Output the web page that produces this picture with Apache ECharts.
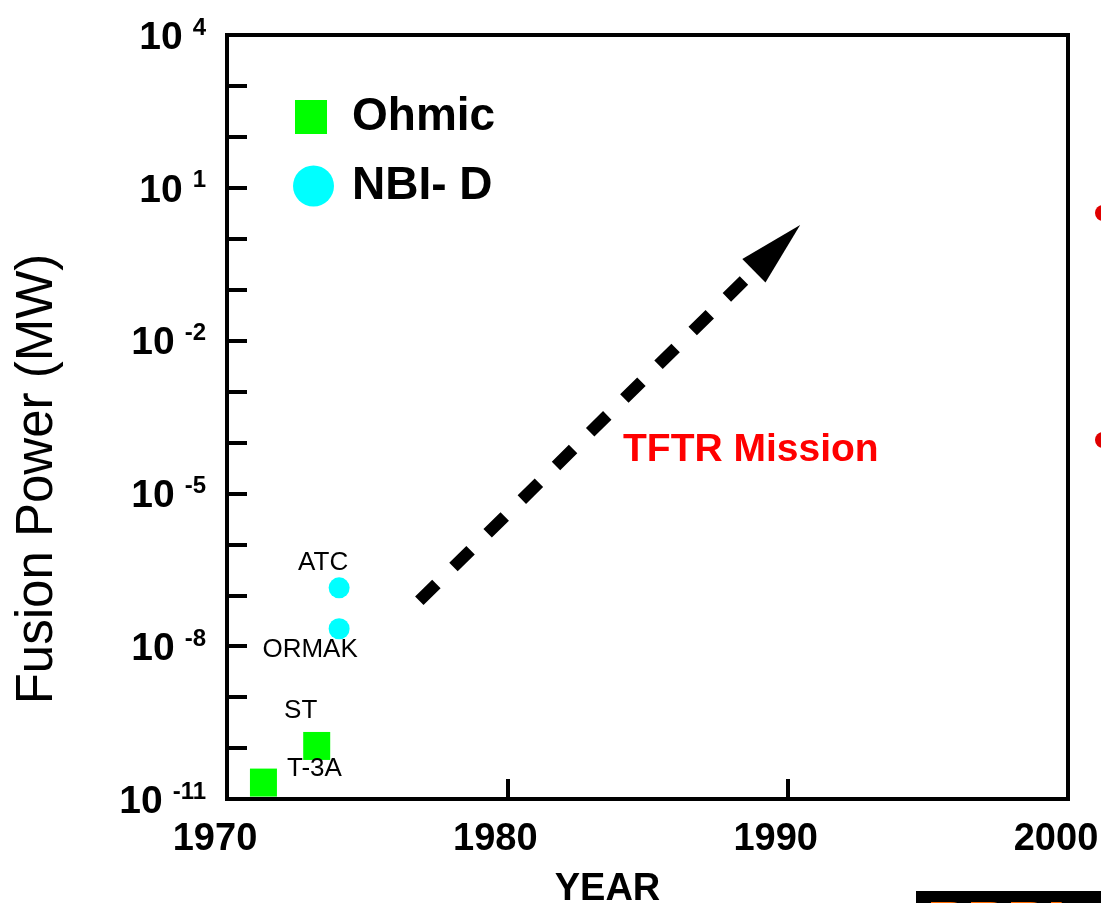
<!DOCTYPE html>
<html>
<head>
<meta charset="utf-8">
<script src="https://cdn.jsdelivr.net/npm/echarts@6/dist/echarts.min.js"></script>
<style>
  html, body { margin: 0; padding: 0; background: #fff; }
  #chart { width: 1101px; height: 903px; }
</style>
</head>
<body>
<div id="chart"></div>
<script>
// Fusion power (MW, log scale) reached by early tokamaks, by year

// Ohmic-heated discharges
const ohmicNames = ['T-3A', 'ST'];
const ohmicYears = [1971.3, 1973.2];
const ohmicPower = [2.1e-11, 1.1e-10];

// Neutral-beam heated deuterium discharges
const nbiNames = ['ATC', 'ORMAK'];
const nbiYears = [1974.0, 1974.0];
const nbiPower = [1.4e-7, 2.2e-8];

// TFTR mission trend arrow: tail and head [year, MW]
const missionYears = [1976.86, 1989.62];
const missionPower = [7.8e-8, 0.66];

// Axis ticks
const yearTicks = [1970, 1980, 1990, 2000];
const powerExponents = [-11, -8, -5, -2, 1, 4];

const FONT = '"Liberation Sans", Arial, Helvetica, sans-serif';

// Where each point's name sits relative to its marker (px)
const labelOffsets = {
  'T-3A': [51, -14],
  'ST': [-16, -35],
  'ATC': [-16, -25],
  'ORMAK': [-29, 21]
};

function pointData(names, years, power) {
  return names.map((n, i) => ({
    name: n,
    value: [years[i], power[i]],
    label: { offset: labelOffsets[n] }
  }));
}

const pointLabel = {
  show: true,
  position: 'inside',
  formatter: '{b}',
  fontFamily: FONT,
  fontSize: 26,
  color: '#000'
};

const chart = echarts.init(document.getElementById('chart'), null, { renderer: 'canvas' });

chart.setOption({
  animation: false,
  backgroundColor: '#fff',
  grid: {
    left: 227, right: 33, top: 35, bottom: 104,
    outerBoundsMode: 'none',
    containLabel: false,
    show: true, borderColor: '#000', borderWidth: 4, backgroundColor: 'transparent'
  },
  legend: [
    {
      data: [{ name: 'Ohmic', icon: 'rect' }],
      left: 290, top: 89,
      itemWidth: 32, itemHeight: 34,
      selectedMode: false,
      textStyle: { fontFamily: FONT, fontSize: 46, fontWeight: 'bold', color: '#000', padding: [0, 0, 0, 20] }
    },
    {
      data: [{ name: 'NBI- D', icon: 'circle' }],
      left: 288, top: 158,
      itemWidth: 41, itemHeight: 41,
      selectedMode: false,
      textStyle: { fontFamily: FONT, fontSize: 46, fontWeight: 'bold', color: '#000', padding: [0, 0, 0, 13] }
    }
  ],
  xAxis: {
    type: 'value',
    min: 1970, max: 2000, interval: 10,
    name: 'YEAR',
    nameLocation: 'middle',
    nameGap: 72,
    nameTextStyle: { fontFamily: FONT, fontSize: 38, fontWeight: 'bold', color: '#000', padding: [0, 80, 0, 0] },
    axisLine: { show: true, lineStyle: { color: '#000', width: 4 } },
    axisTick: { show: true, inside: true, length: 20, lineStyle: { color: '#000', width: 4 } },
    splitLine: { show: false },
    axisLabel: {
      fontFamily: FONT, fontSize: 38, fontWeight: 'bold', color: '#000',
      margin: 22, padding: [0, 24, 0, 0],
      showMinLabel: true, showMaxLabel: true,
      formatter: v => (yearTicks.includes(v) ? String(v) : '')
    }
  },
  yAxis: {
    type: 'log',
    logBase: 10,
    min: 1e-11, max: 1e4, interval: 1,
    axisLine: { show: true, lineStyle: { color: '#000', width: 4 } },
    axisTick: { show: true, inside: true, length: 20, lineStyle: { color: '#000', width: 4 } },
    splitLine: { show: false },
    axisLabel: {
      margin: 21,
      padding: [6, 0, 0, 0],
      showMinLabel: true, showMaxLabel: true,
      formatter: v => {
        const e = Math.round(Math.log10(v));
        return powerExponents.includes(e) ? '{b|10}{s|' + e + '}' : '';
      },
      rich: {
        b: { fontFamily: FONT, fontSize: 39, fontWeight: 'bold', color: '#000', lineHeight: 44 },
        s: { fontFamily: FONT, fontSize: 24, fontWeight: 'bold', color: '#000', lineHeight: 8,
             verticalAlign: 'top', padding: [0, 0, 0, 10] }
      }
    }
  },
  series: [
    {
      name: 'Ohmic',
      type: 'scatter',
      symbol: 'rect',
      symbolSize: [27, 28],
      itemStyle: { color: '#00ff00', opacity: 1 },
      label: pointLabel,
      emphasis: { disabled: true },
      data: pointData(ohmicNames, ohmicYears, ohmicPower)
    },
    {
      name: 'NBI- D',
      type: 'scatter',
      symbol: 'circle',
      symbolSize: 21,
      itemStyle: { color: '#00ffff', opacity: 1 },
      label: pointLabel,
      emphasis: { disabled: true },
      data: pointData(nbiNames, nbiYears, nbiPower)
    },
    {
      name: 'TFTR Mission',
      type: 'scatter',
      data: [],
      silent: true,
      markLine: {
        silent: true,
        animation: false,
        label: { show: false },
        emphasis: { disabled: true },
        lineStyle: { color: '#000', width: 12, type: [24, 24], cap: 'butt', opacity: 1 },
        data: [[
          { coord: [missionYears[0], missionPower[0]], symbol: 'none' },
          { coord: [missionYears[1], missionPower[1]], symbol: 'triangle', symbolSize: [33, 65] }
        ]]
      }
    }
  ],
  graphic: [
    {
      type: 'text', x: 38, y: 479, rotation: Math.PI / 2,
      style: { text: 'Fusion Power (MW)', font: '51px ' + FONT, fill: '#000', align: 'center', verticalAlign: 'middle' }
    },
    {
      type: 'text', x: 623, y: 450,
      style: { text: 'TFTR Mission', font: 'bold 39px ' + FONT, fill: '#ff0000', align: 'left', verticalAlign: 'middle' }
    },
    { type: 'circle', shape: { cx: 1103, cy: 213, r: 8 }, style: { fill: '#e00000' } },
    { type: 'circle', shape: { cx: 1103, cy: 440, r: 8 }, style: { fill: '#e00000' } },
    { type: 'rect', shape: { x: 916, y: 891, width: 185, height: 12 }, style: { fill: '#000' } },
    {
      type: 'text', x: 928, y: 897,
      style: { text: 'PPPL', font: 'bold 60px ' + FONT, fill: '#000', stroke: '#ff6a00', lineWidth: 2, align: 'left', verticalAlign: 'top' }
    }
  ]
});
</script>
</body>
</html>
